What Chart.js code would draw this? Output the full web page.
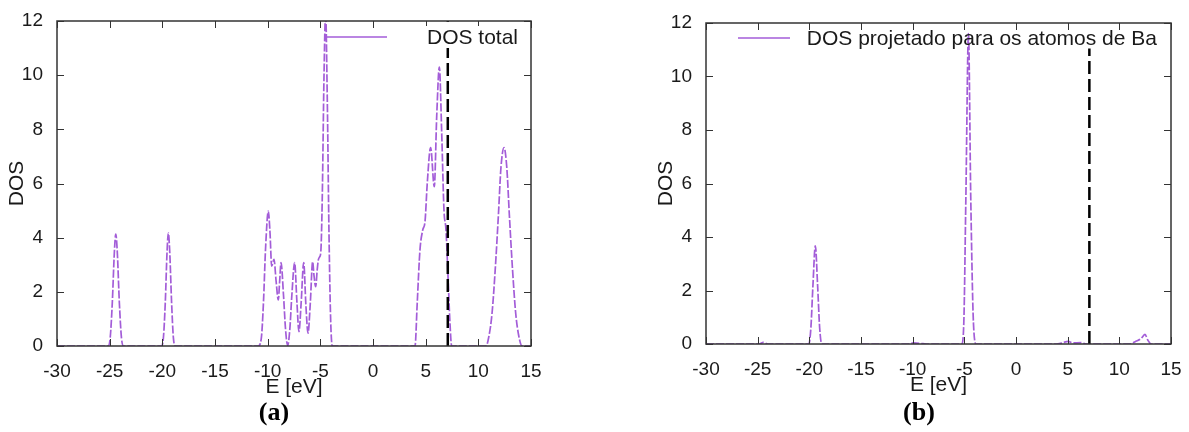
<!DOCTYPE html>
<html>
<head>
<meta charset="utf-8">
<script src="https://cdn.jsdelivr.net/npm/chart.js@4.4.1/dist/chart.umd.min.js"></script>
<style>
  html, body { margin: 0; padding: 0; background: #fff; }
  body { width: 1189px; height: 432px; position: relative; overflow: hidden; }
  .panel { position: absolute; top: 0; height: 432px; }
  .caption { position: absolute; top: 397px; width: 80px; text-align: center;
    font: bold 26px "Liberation Serif", "Times New Roman", serif; color: #000; }
</style>
</head>
<body>
<div class="panel" style="left:0;width:560px"><canvas id="chart-a" width="560" height="432"></canvas></div>
<div class="panel" style="left:590px;width:599px"><canvas id="chart-b" width="599" height="432"></canvas></div>
<div class="caption" style="left:234px">(a)</div>
<div class="caption" style="left:879px">(b)</div>
<script>
(function () {
  "use strict";

  // (a) total DOS
  const totalEnergy = [
    -30, -25.15, -24.95, -24.75, -24.55, -24.42, -24.28, -24.08, -23.88, -23.68,
    -20.1, -19.9, -19.72, -19.55, -19.43, -19.3, -19.12, -18.95, -18.75,
    -10.9, -10.6, -10.4, -10.2, -9.94, -9.78, -9.62, -9.4, -9.2, -8.99, -8.86, -8.73,
    -8.5, -8.3, -8.1, -7.9, -7.7, -7.44, -7.22, -7.03, -6.82, -6.58, -6.37, -6.17,
    -5.95, -5.73, -5.6, -5.44, -5.3, -5.19, -5.05, -4.95, -4.82, -4.65, -4.5, -4.34,
    -4.18, -4.02, -3.86,
    3.99, 4.2, 4.46, 4.72, 4.94, 5.15, 5.47, 5.82, 6.05, 6.3, 6.52, 6.74, 6.93, 7.15, 7.3, 7.47,
    10.73, 11.0, 11.3, 11.6, 11.9, 12.15, 12.44, 12.7, 12.95, 13.25, 13.55, 13.85, 14.15, 15
  ];
  const totalDos = [
    0, 0, 0.3, 1.6, 3.5, 4.13, 3.5, 1.6, 0.3, 0,
    0, 0.3, 1.6, 3.5, 4.17, 3.5, 1.6, 0.3, 0,
    0, 0.3, 1.6, 3.6, 4.98, 4.2, 2.95, 3.2, 2.4, 1.7, 2.4, 3.08,
    1.9, 0.6, 0.02, 0.6, 1.9, 3.08, 1.6, 0.53, 1.6, 3.08, 1.5, 0.47,
    1.6, 3.11, 2.6, 2.19, 2.8, 3.18, 3.3, 3.5, 5.4, 10.0, 12.3, 9.1,
    4.2, 0.96, 0,
    0, 1.6, 3.55, 4.28, 4.6, 6.0, 7.33, 5.88, 8.5, 10.3, 7.9, 5.0, 4.28, 2.3, 0.9, 0,
    0, 0.35, 1.2, 2.8, 4.8, 6.6, 7.33, 6.6, 4.8, 2.8, 1.2, 0.35, 0, 0
  ];

  // (b) DOS projected on the Ba atoms
  const baEnergy = [
    -30, -24.9, -24.45, -24.0,
    -20.05, -19.85, -19.65, -19.42, -19.2, -19.0, -18.8,
    -10.5, -9.94, -9.2, -8.7,
    -5.25, -5.05, -4.85, -4.6, -4.38, -4.12, -3.85,
    3.9, 4.5, 5.06, 5.5, 6.3, 6.8,
    11.0, 11.6, 12.1, 12.48, 12.75, 13.1, 15
  ];
  const baDos = [
    0, 0, 0.06, 0,
    0, 0.6, 2.2, 3.67, 2.2, 0.6, 0,
    0, 0.04, 0.02, 0,
    0, 0.8, 5.5, 11.6, 5.5, 0.8, 0,
    0, 0.05, 0.1, 0.04, 0.05, 0,
    0, 0.1, 0.2, 0.36, 0.15, 0, 0
  ];

  const fermiLevel = 7.1;
  const fermiTopA = 12;
  const fermiTopB = 11.05;

  const xMin = -30, xMax = 15, xStep = 5;
  const yMin = 0, yMax = 12, yStep = 2;

  const labelA = "DOS total";
  const labelB = "DOS projetado para os atomos de Ba";
  const xTitle = "E [eV]";
  const yTitle = "DOS";

  const PURPLE = "#a35dd8";
  const FONT = "'Liberation Sans', Arial, sans-serif";
  const INK = "#1a1a1a";

  function toPoints(xs, ys) {
    return xs.map((x, i) => ({ x: x, y: ys[i] }));
  }

  // gnuplot-like frame with inward, mirrored tick marks
  const framePlugin = {
    id: "gnuFrame",
    afterDatasetsDraw(chart) {
      const { ctx, chartArea: a, scales } = chart;
      const len = 7;
      ctx.save();
      ctx.strokeStyle = "#333";
      ctx.lineWidth = 1;
      ctx.beginPath();
      scales.x.ticks.forEach(t => {
        const px = Math.round(scales.x.getPixelForValue(t.value)) + 0.5;
        ctx.moveTo(px, a.bottom); ctx.lineTo(px, a.bottom - len);
        ctx.moveTo(px, a.top); ctx.lineTo(px, a.top + len);
      });
      scales.y.ticks.forEach(t => {
        const py = Math.round(scales.y.getPixelForValue(t.value)) + 0.5;
        ctx.moveTo(a.left, py); ctx.lineTo(a.left + len, py);
        ctx.moveTo(a.right, py); ctx.lineTo(a.right - len, py);
      });
      ctx.stroke();
      ctx.lineWidth = 1.5;
      ctx.strokeRect(a.left, a.top, a.width, a.height);
      ctx.restore();
    }
  };

  // key inside the top right corner
  const keyPlugin = {
    id: "gnuKey",
    afterDraw(chart, args, opts) {
      const { ctx, chartArea: a } = chart;
      const ds = chart.data.datasets[opts.index];
      const y = a.top + opts.dy;
      ctx.save();
      ctx.font = "21px " + FONT;
      const w = ctx.measureText(ds.label).width;
      const tx = a.right - opts.textRight;
      if (opts.clear) {
        ctx.fillStyle = "#fff";
        ctx.fillRect(tx - w - 2, y - 11, w + 4, 22);
      }
      ctx.strokeStyle = ds.borderColor;
      ctx.lineWidth = 1.5;
      ctx.beginPath();
      ctx.moveTo(a.right - opts.sampleFrom, y);
      ctx.lineTo(a.right - opts.sampleTo, y);
      ctx.stroke();
      ctx.fillStyle = INK;
      ctx.textAlign = "right";
      ctx.textBaseline = "middle";
      ctx.fillText(ds.label, tx, y + 1);
      ctx.restore();
    }
  };

  function makeChart(canvasId, label, points, fermiTop, pad, key) {
    const canvas = document.getElementById(canvasId);
    return new Chart(canvas.getContext("2d"), {
      type: "line",
      data: {
        datasets: [
          {
            label: "Ef",
            data: [{ x: fermiLevel, y: yMin }, { x: fermiLevel, y: fermiTop }],
            borderColor: "#000",
            borderWidth: 2.5,
            borderDash: [13, 5],
            pointRadius: 0
          },
          {
            label: label,
            data: points,
            borderColor: PURPLE,
            borderWidth: 1.7,
            borderDash: [8, 2],
            pointRadius: 0,
            cubicInterpolationMode: "monotone"
          }
        ]
      },
      options: {
        responsive: false,
        animation: false,
        layout: { padding: pad },
        plugins: {
          legend: { display: false },
          tooltip: { enabled: false },
          gnuKey: key
        },
        scales: {
          x: {
            type: "linear",
            min: xMin,
            max: xMax,
            grid: { display: false, drawTicks: false },
            border: { display: false },
            ticks: { stepSize: xStep, autoSkip: false, maxRotation: 0, padding: 14,
              color: INK, font: { family: FONT, size: 19 } },
            title: { display: true, text: xTitle, color: INK,
              font: { family: FONT, size: 21 }, padding: { top: 0, bottom: 2 } },
            afterFit(s) {
              s.height = 56;
              s.paddingLeft = 0;
              s.paddingRight = 0;
            }
          },
          y: {
            min: yMin,
            max: yMax,
            grid: { display: false, drawTicks: false },
            border: { display: false },
            ticks: { stepSize: yStep, padding: 14,
              color: INK, font: { family: FONT, size: 19 } },
            title: { display: true, text: yTitle, color: INK,
              font: { family: FONT, size: 21 }, padding: { top: 5, bottom: 0 } },
            afterFit(s) {
              s.width = 57;
              s.paddingTop = 0;
              s.paddingBottom = 0;
            }
          }
        }
      },
      plugins: [framePlugin, keyPlugin]
    });
  }

  function init() {
    if (typeof Chart === "undefined") return;
    makeChart("chart-a", labelA, toPoints(totalEnergy, totalDos), fermiTopA,
      { left: 0, right: 29, top: 21, bottom: 30 },
      { index: 1, dy: 16, textRight: 13, sampleFrom: 204, sampleTo: 144, clear: true });
    makeChart("chart-b", labelB, toPoints(baEnergy, baDos), fermiTopB,
      { left: 59, right: 18, top: 23, bottom: 32 },
      { index: 1, dy: 15, textRight: 14, sampleFrom: 433, sampleTo: 381, clear: false });
  }

  document.addEventListener("DOMContentLoaded", init);
})();
</script>
</body>
</html>
